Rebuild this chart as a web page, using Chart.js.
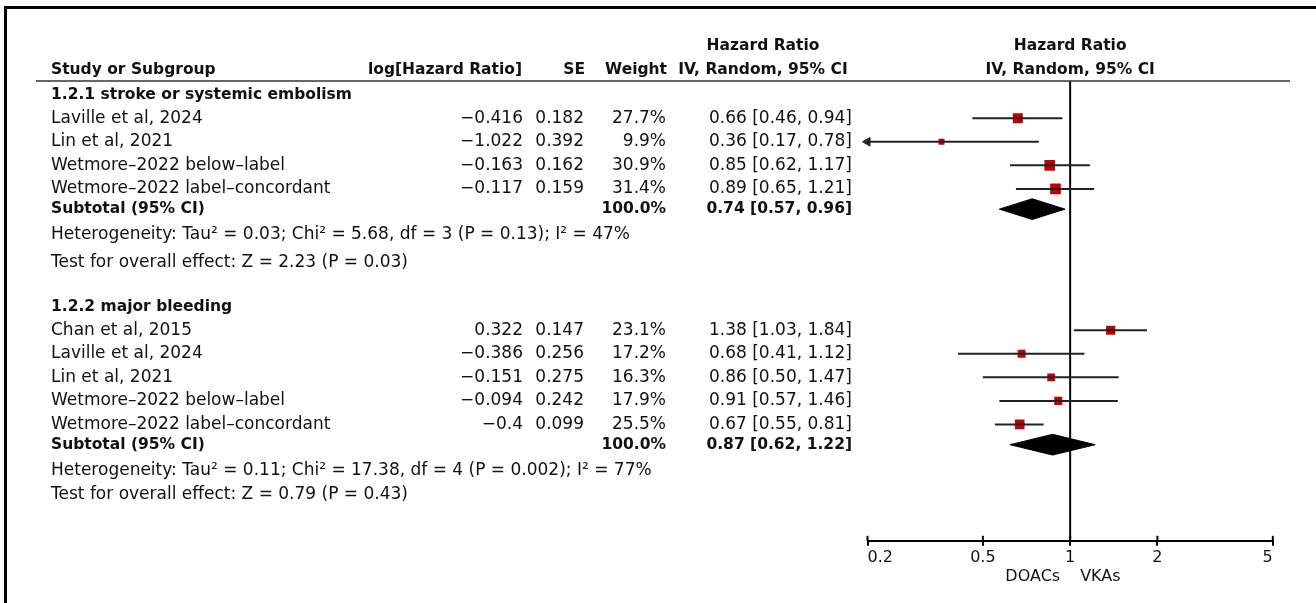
<!DOCTYPE html>
<html>
<head>
<meta charset="utf-8">
<title>Forest plot</title>
<script src="https://cdn.jsdelivr.net/npm/chart.js@4"></script>
<style>
  html, body { margin: 0; padding: 0; background: #fff; }
  #wrap { position: relative; width: 1316px; height: 603px; overflow: hidden; }
  #frame { position: absolute; left: 4px; top: 6px; width: 1340px; height: 640px;
           border-left: 3px solid #000; border-top: 3px solid #000; }
  #forest { position: absolute; left: 0; top: 0; }
</style>
</head>
<body>
<div id="wrap">
  <div id="frame"></div>
  <canvas id="forest"></canvas>
</div>
<script>
const FONT = "'DejaVu Sans', sans-serif";
const TEXT = "#111";
const RED = "#c00000";

// 1.2.1 stroke or systemic embolism
const studies1 = ["Laville et al, 2024", "Lin et al, 2021", "Wetmore–2022 below–label", "Wetmore–2022 label–concordant"];
const logHR1 = [-0.416, -1.022, -0.163, -0.117];
const se1 = [0.182, 0.392, 0.162, 0.159];
const weight1 = [27.7, 9.9, 30.9, 31.4];
const hr1 = [0.66, 0.36, 0.85, 0.89];
const low1 = [0.46, 0.17, 0.62, 0.65];
const high1 = [0.94, 0.78, 1.17, 1.21];

// 1.2.2 major bleeding
const studies2 = ["Chan et al, 2015", "Laville et al, 2024", "Lin et al, 2021", "Wetmore–2022 below–label", "Wetmore–2022 label–concordant"];
const logHR2 = [0.322, -0.386, -0.151, -0.094, -0.4];
const se2 = [0.147, 0.256, 0.275, 0.242, 0.099];
const weight2 = [23.1, 17.2, 16.3, 17.9, 25.5];
const hr2 = [1.38, 0.68, 0.86, 0.91, 0.67];
const low2 = [1.03, 0.41, 0.50, 0.57, 0.55];
const high2 = [1.84, 1.12, 1.47, 1.46, 0.81];

const groupTitles = ["1.2.1 stroke or systemic embolism", "1.2.2 major bleeding"];
const subtotalHR = [0.74, 0.87];
const subtotalLow = [0.57, 0.62];
const subtotalHigh = [0.96, 1.22];
const heterogeneity = [
  "Heterogeneity: Tau² = 0.03; Chi² = 5.68, df = 3 (P = 0.13); I² = 47%",
  "Heterogeneity: Tau² = 0.11; Chi² = 17.38, df = 4 (P = 0.002); I² = 77%",
];
const overallTests = [
  "Test for overall effect: Z = 2.23 (P = 0.03)",
  "Test for overall effect: Z = 0.79 (P = 0.43)",
];

const xTicks = [0.2, 0.5, 1, 2, 5];
const xLabels = ["DOACs", "VKAs"];
const X_MIN = 0.2, X_MAX = 5;
const Y_MIN = -0.58, Y_MAX = 18.94;

const groups = [
  { title: groupTitles[0], studies: studies1, logHR: logHR1, se: se1, weight: weight1, hr: hr1, low: low1, high: high1, start: 0, testGap: 1.15 },
  { title: groupTitles[1], studies: studies2, logHR: logHR2, se: se2, weight: weight2, hr: hr2, low: low2, high: high2, start: 9.0, testGap: 1.0 },
];
groups.forEach((g, i) => {
  const n = g.studies.length;
  g.rows = g.studies.map((_, j) => g.start + 1 + j);
  g.subRow = g.start + n + 0.86;
  g.hetRow = g.start + n + 1.96;
  g.testRow = g.hetRow + g.testGap;
  g.subHR = subtotalHR[i];
  g.subLow = subtotalLow[i];
  g.subHigh = subtotalHigh[i];
  g.het = heterogeneity[i];
  g.test = overallTests[i];
});

const signed = (v) => (v < 0 ? "−" + String(Math.abs(v)) : String(v));
const ci = (h, l, u) => `${h.toFixed(2)} [${l.toFixed(2)}, ${u.toFixed(2)}]`;

const datasets = [];

// confidence interval lines
groups.forEach((g) => {
  g.rows.forEach((r, j) => {
    datasets.push({
      data: [{ x: Math.max(g.low[j], X_MIN), y: r }, { x: Math.min(g.high[j], X_MAX), y: r }],
      showLine: true,
      borderColor: "#222",
      borderWidth: 2,
      pointRadius: 0,
      clip: false,
    });
  });
});

// arrows where the interval runs off the axis
const arrowPts = [];
groups.forEach((g) => g.rows.forEach((r, j) => { if (g.low[j] < X_MIN) arrowPts.push({ x: X_MIN, y: r }); }));
datasets.push({
  data: arrowPts,
  pointStyle: "triangle",
  rotation: -90,
  pointRadius: 5,
  backgroundColor: "#222",
  borderColor: "#222",
  borderWidth: 1,
  clip: false,
});

// line of no effect
datasets.push({
  data: [{ x: 1, y: Y_MIN }, { x: 1, y: Y_MAX }],
  showLine: true,
  borderColor: "#000",
  borderWidth: 2,
  pointRadius: 0,
});

// study estimates, boxes sized by weight
groups.forEach((g) => {
  datasets.push({
    data: g.rows.map((r, j) => ({ x: g.hr[j], y: r })),
    pointStyle: "rect",
    pointRadius: g.weight.map((w) => 1.35 * Math.sqrt(w)),
    backgroundColor: RED,
    borderColor: RED,
    borderWidth: 0,
  });
});

// subtotal diamonds
const halfH = 0.44;
groups.forEach((g) => {
  datasets.push({
    data: [
      { x: g.subLow, y: g.subRow },
      { x: g.subHR, y: g.subRow - halfH },
      { x: g.subHigh, y: g.subRow },
      { x: g.subHR, y: g.subRow + halfH },
      { x: g.subLow, y: g.subRow },
    ],
    showLine: true,
    fill: "shape",
    tension: 0,
    backgroundColor: "#000",
    borderColor: "#000",
    borderWidth: 1,
    pointRadius: 0,
  });
});

const tablePlugin = {
  id: "forestTable",
  afterDraw(chart) {
    const { ctx, chartArea, scales: { x, y } } = chart;
    const put = (txt, px, r, align, bold) => {
      ctx.font = bold ? `bold 15.5px ${FONT}` : `17px ${FONT}`;
      ctx.textAlign = align;
      ctx.fillText(txt, px, y.getPixelForValue(r));
    };
    ctx.save();
    ctx.fillStyle = TEXT;
    ctx.textBaseline = "middle";

    // header
    const h1 = -2.06, h2 = -1.05;
    const xo = x.getPixelForValue(1);
    put("Hazard Ratio", 763, h1, "center", true);
    put("Hazard Ratio", xo, h1, "center", true);
    put("Study or Subgroup", 51, h2, "left", true);
    put("log[Hazard Ratio]", 522, h2, "right", true);
    put("SE", 585, h2, "right", true);
    put("Weight", 667, h2, "right", true);
    put("IV, Random, 95% CI", 763, h2, "center", true);
    put("IV, Random, 95% CI", xo, h2, "center", true);

    ctx.strokeStyle = "#333";
    ctx.lineWidth = 1.5;
    ctx.beginPath();
    ctx.moveTo(36, chartArea.top);
    ctx.lineTo(1290, chartArea.top);
    ctx.stroke();

    groups.forEach((g) => {
      put(g.title, 51, g.start, "left", true);
      g.rows.forEach((r, j) => {
        put(g.studies[j], 51, r, "left", false);
        put(signed(g.logHR[j]), 523, r, "right", false);
        put(String(g.se[j]), 584, r, "right", false);
        put(g.weight[j].toFixed(1) + "%", 666, r, "right", false);
        put(ci(g.hr[j], g.low[j], g.high[j]), 852, r, "right", false);
      });
      put("Subtotal (95% CI)", 51, g.subRow, "left", true);
      put("100.0%", 666, g.subRow, "right", true);
      put(ci(g.subHR, g.subLow, g.subHigh), 852, g.subRow, "right", true);
      put(g.het, 51, g.hetRow, "left", false);
      put(g.test, 51, g.testRow, "left", false);
    });

    // tick marks reach a little above the axis too
    ctx.strokeStyle = "#000";
    ctx.lineWidth = 2;
    xTicks.forEach((v) => {
      const px = x.getPixelForValue(v);
      ctx.beginPath();
      ctx.moveTo(px, chartArea.bottom - 5);
      ctx.lineTo(px, chartArea.bottom);
      ctx.stroke();
    });

    // direction labels under the axis
    ctx.font = `16px ${FONT}`;
    const yl = chartArea.bottom + 36;
    ctx.textAlign = "right";
    ctx.fillText(xLabels[0], xo - 10, yl);
    ctx.textAlign = "left";
    ctx.fillText(xLabels[1], xo + 10, yl);
    ctx.restore();
  },
};

new Chart(document.getElementById("forest"), {
  type: "scatter",
  data: { datasets },
  options: {
    animation: false,
    responsive: true,
    maintainAspectRatio: false,
    layout: { padding: { left: 867.5, right: 43.2, top: 81, bottom: 34 } },
    plugins: { legend: { display: false }, tooltip: { enabled: false } },
    scales: {
      x: {
        type: "logarithmic",
        min: X_MIN,
        max: X_MAX,
        afterBuildTicks: (axis) => { axis.ticks = xTicks.map((v) => ({ value: v })); },
        ticks: {
          align: "inner",
          padding: 2,
          color: TEXT,
          autoSkip: false,
          maxRotation: 0,
          font: { family: FONT, size: 16 },
          callback: (v) => String(v),
        },
        grid: { drawOnChartArea: false, drawTicks: true, tickLength: 5, color: "#000", lineWidth: 2 },
        border: { display: true, color: "#000", width: 2 },
      },
      y: { type: "linear", reverse: true, min: Y_MIN, max: Y_MAX, display: false },
    },
  },
  plugins: [tablePlugin],
});
</script>
</body>
</html>
